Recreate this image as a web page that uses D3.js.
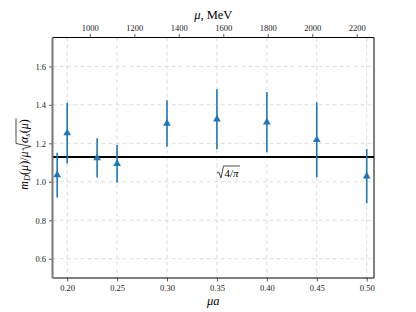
<!DOCTYPE html>
<html><head><meta charset="utf-8">
<script src="https://cdn.jsdelivr.net/npm/d3@7"></script>
<style>body{margin:0;background:#fff}</style>
</head><body>
<svg id="c" width="416" height="312"></svg>
<script>
const muA = [0.19, 0.20, 0.23, 0.25, 0.30, 0.35, 0.40, 0.45, 0.50];
const ratio = [1.035, 1.253, 1.124, 1.094, 1.303, 1.325, 1.310, 1.218, 1.029];
const errs = [0.116, 0.158, 0.102, 0.097, 0.121, 0.156, 0.157, 0.195, 0.141];
const xTicks = [0.20, 0.25, 0.30, 0.35, 0.40, 0.45, 0.50];
const yTicks = [0.6, 0.8, 1.0, 1.2, 1.4, 1.6];
const topTicks = [1000, 1200, 1400, 1600, 1800, 2000, 2200];
const mevPerMuA = 4490;
const refLine = Math.sqrt(4 / Math.PI);

const svg = d3.select('#c');
const L = 52.5, R = 374, T = 37.5, B = 278;
const font = "'Liberation Serif','DejaVu Serif',serif";
const x = d3.scaleLinear().domain([0.1853, 0.5073]).range([L, R]);
const xTop = d3.scaleLinear().domain([0.1853 * mevPerMuA, 0.5073 * mevPerMuA]).range([L, R]);
const y = d3.scaleLinear().domain([0.5, 1.75]).range([B, T]);

// grid
const g = svg.append('g');
g.selectAll('.vg').data(xTicks).join('line')
  .attr('x1', d => x(d)).attr('x2', d => x(d)).attr('y1', T).attr('y2', B)
  .attr('stroke', '#dcdcdc').attr('stroke-width', 1).attr('stroke-dasharray', '4,3');
g.selectAll('.hg').data(yTicks).join('line')
  .attr('y1', d => y(d)).attr('y2', d => y(d)).attr('x1', L).attr('x2', R)
  .attr('stroke', '#dcdcdc').attr('stroke-width', 1).attr('stroke-dasharray', '4,3');

// reference line
svg.append('line').attr('x1', L).attr('x2', R).attr('y1', y(refLine)).attr('y2', y(refLine))
  .attr('stroke', '#000').attr('stroke-width', 2);

// error bars
const col = '#1f77b4';
const idx = d3.range(muA.length);
svg.append('g').selectAll('line').data(idx).join('line')
  .attr('x1', i => x(muA[i])).attr('x2', i => x(muA[i]))
  .attr('y1', i => y(ratio[i] - errs[i])).attr('y2', i => y(ratio[i] + errs[i]))
  .attr('stroke', col).attr('stroke-width', 1.6);
const tri = d3.symbol().type(d3.symbolTriangle).size(26);
svg.append('g').selectAll('path').data(idx).join('path')
  .attr('d', tri).attr('transform', i => `translate(${x(muA[i])},${y(ratio[i])})`)
  .attr('fill', col);

// annotation sqrt(4/pi)
const ann = svg.append('g').attr('font-family', font).attr('font-size', 11);
const ax0 = 218, ab = 177;
const at = ann.append('text').attr('x', ax0 + 6.5).attr('y', ab);
at.append('tspan').text('4/');
at.append('tspan').attr('font-style', 'italic').text('π');
const aw = at.node().getComputedTextLength();
ann.append('path').attr('d', `M${ax0-1},${ab-4} L${ax0+0.8},${ab-5} L${ax0+3},${ab+1} L${ax0+5.5},${ab-11} L${ax0+6.5+aw+1.5},${ab-11}`)
  .attr('fill', 'none').attr('stroke', '#000').attr('stroke-width', 0.7);

// axes
const tickFont = 8.5;
const bx = svg.append('g').attr('transform', `translate(0,${B})`)
  .call(d3.axisBottom(x).tickValues(xTicks).tickFormat(d3.format('.2f')).tickSize(3.5).tickPadding(3));
const tx = svg.append('g').attr('transform', `translate(0,${T})`)
  .call(d3.axisTop(xTop).tickValues(topTicks).tickFormat(d3.format('d')).tickSize(3.5).tickPadding(3));
const ly = svg.append('g').attr('transform', `translate(${L},0)`)
  .call(d3.axisLeft(y).tickValues(yTicks).tickFormat(d3.format('.1f')).tickSize(3.5).tickPadding(3));
[bx, tx, ly].forEach(a => {
  a.select('.domain').remove();
  a.selectAll('text').attr('font-family', font).attr('font-size', tickFont).attr('fill', '#222');
  a.selectAll('line').attr('stroke', '#333').attr('stroke-width', 0.8);
});
// frame
svg.append('line').attr('x1', L).attr('x2', R).attr('y1', T).attr('y2', T).attr('stroke', '#000').attr('stroke-width', 1);
svg.append('line').attr('x1', L).attr('x2', R).attr('y1', B).attr('y2', B).attr('stroke', '#000').attr('stroke-width', 1);
svg.append('line').attr('x1', R).attr('x2', R).attr('y1', T).attr('y2', B).attr('stroke', '#000').attr('stroke-width', 1);
svg.append('line').attr('x1', L).attr('x2', L).attr('y1', T).attr('y2', B).attr('stroke', '#777').attr('stroke-width', 2);

// axis titles
svg.append('text').attr('x', (L + R) / 2).attr('y', 305).attr('text-anchor', 'middle')
  .attr('font-family', font).attr('font-size', 12.5).attr('font-style', 'italic').text('μa');
const tt = svg.append('text').attr('x', (L + R) / 2).attr('y', 19).attr('text-anchor', 'middle')
  .attr('font-family', font).attr('font-size', 12.5);
tt.append('tspan').attr('font-style', 'italic').text('μ');
tt.append('tspan').text(', MeV');

// y label
const yl = svg.append('g').attr('font-family', font).attr('font-size', 12);
const t1 = yl.append('text').attr('x', 0).attr('y', 0);
t1.append('tspan').attr('font-style', 'italic').text('m');
t1.append('tspan').attr('font-style', 'italic').attr('font-size', 8.5).attr('dy', 2).text('D');
t1.append('tspan').attr('dy', -2).text('(');
t1.append('tspan').attr('font-style', 'italic').text('μ');
t1.append('tspan').text(')/');
t1.append('tspan').attr('font-style', 'italic').text('μ');
const w1 = t1.node().getComputedTextLength();
const sx = w1 + 1;
const t2 = yl.append('text').attr('x', sx + 7.5).attr('y', 0);
t2.append('tspan').attr('font-style', 'italic').text('α');
t2.append('tspan').attr('font-style', 'italic').attr('font-size', 8.5).attr('dy', 2).text('s');
t2.append('tspan').attr('dy', -2).text('(');
t2.append('tspan').attr('font-style', 'italic').text('μ');
t2.append('tspan').text(')');
const w2 = t2.node().getComputedTextLength();
yl.append('path').attr('d', `M${sx},${-4.5} L${sx+1.8},${-5.5} L${sx+4},${3} L${sx+7},${-12} L${sx+7.5+w2+1},${-12}`)
  .attr('fill', 'none').attr('stroke', '#000').attr('stroke-width', 0.7);
const total = sx + 7.5 + w2 + 1;
yl.attr('transform', `translate(28,${154 + total / 2}) rotate(-90)`);
</script>
</body></html>
